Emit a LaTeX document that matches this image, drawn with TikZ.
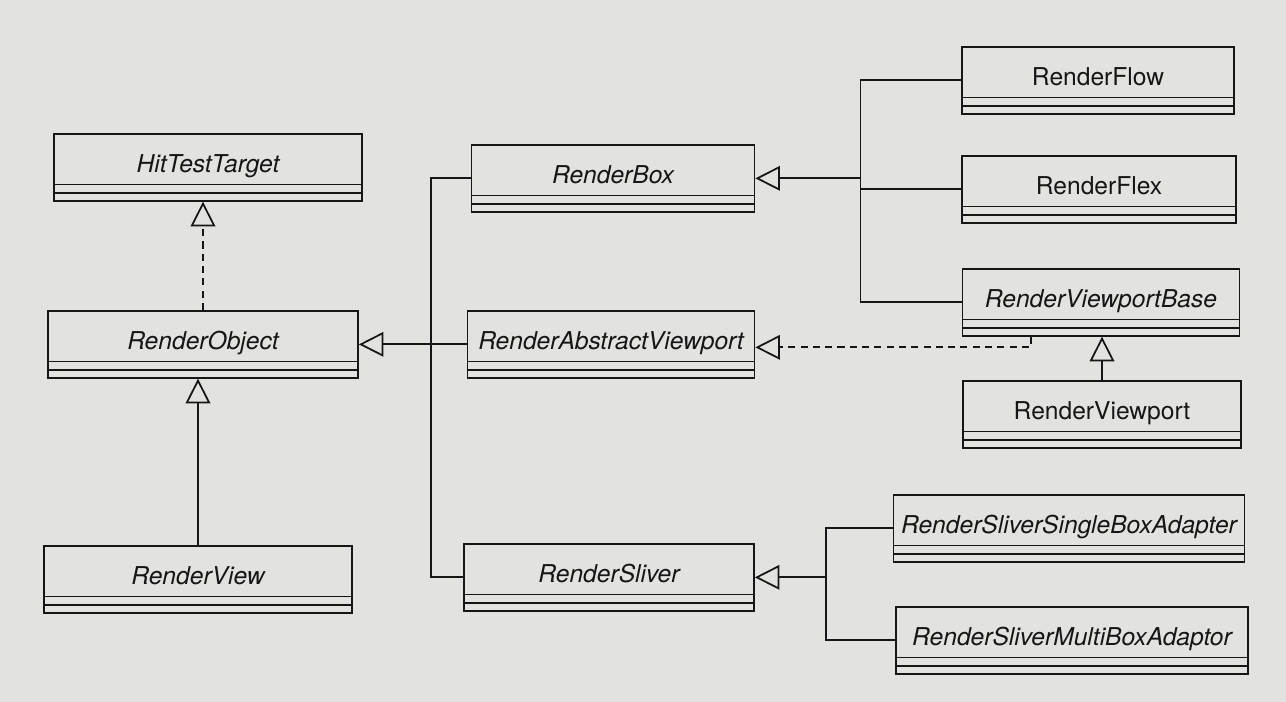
\documentclass[tikz,border=0pt]{standalone}
\usepackage{fontspec}
\setmainfont{TeX Gyre Heros}
\usetikzlibrary{arrows.meta, calc}
\definecolor{paper}{RGB}{226,227,224}
\definecolor{ink}{RGB}{22,22,22}

\tikzset{
  cls/.style={draw=ink, line width=1pt, anchor=north, inner xsep=2pt, inner ysep=0pt,
    text height=22.2pt, text depth=15.9pt,
    font=\fontsize{14}{16}\selectfont\itshape, text=ink, minimum width=#1*0.02cm,
    path picture={
      \draw[ink, line width=1pt] ([yshift=9.3pt]path picture bounding box.south west)
        -- ([yshift=9.3pt]path picture bounding box.south east);
      \draw[ink, line width=1pt] ([yshift=4.6pt]path picture bounding box.south west)
        -- ([yshift=4.6pt]path picture bounding box.south east);
    }},
  concrete/.style={font=\fontsize{14}{16}\selectfont\upshape},
  link/.style={draw=ink, line width=1pt},
  inherit/.style={link, -{Triangle[open, length=14pt, width=14pt]}},
  realize/.style={inherit, dash pattern=on 4pt off 3pt}
}

\begin{document}
\begin{tikzpicture}[x=0.02cm, y=-0.02cm]
\fill[paper] (0,0) rectangle (1286,702);
\useasboundingbox (0,0) rectangle (1286,702);

% left column
\node[cls=308] (hit) at (208,133) {HitTestTarget};
\node[cls=310] (obj) at (203,310) {RenderObject};
\node[cls=308] (view) at (198,545) {RenderView};

% middle column
\node[cls=283] (box) at (613,144) {RenderBox};
\node[cls=287] (absvp) at (611,310) {RenderAbstractViewport};
\node[cls=290] (sliver) at (609,543) {RenderSliver};

% right column
\node[cls=272, concrete] (flow) at (1098,46) {RenderFlow};
\node[cls=274, concrete] (flex) at (1099,155) {RenderFlex};
\node[cls=277] (vpbase) at (1101,268) {RenderViewportBase};
\node[cls=278, concrete] (vp) at (1102,380) {RenderViewport};
\node[cls=351] (single) at (1069,494) {RenderSliverSingleBoxAdapter};
\node[cls=352] (multi) at (1072,606) {RenderSliverMultiBoxAdaptor};

% connectors
\draw[realize] (obj.north) -- (obj.north |- hit.south);
\draw[inherit] (view.north) -- (view.north |- obj.south);

\coordinate (jl) at ($(obj.east)+(72,0)$);
\draw[inherit] (absvp.west) -- (obj.east);
\draw[link] (box.west) -| (jl) |- (sliver.west);

\coordinate (jr) at ($(box.east)+(105,0)$);
\draw[inherit] (jr) -- (box.east);
\draw[link] (flow.west) -| (jr) |- (vpbase.west);
\draw[link] (flex.west) -- (flex.west -| jr);

\draw[realize] ($(vpbase.south west)+(69,0)$) |- ($(absvp.east)+(0,3)$);
\draw[inherit] (vp.north) -- (vp.north |- vpbase.south);

\coordinate (js) at ($(sliver.east)+(71,0)$);
\draw[inherit] (js) -- (sliver.east);
\draw[link] (single.west) -| (js) |- (multi.west);
\end{tikzpicture}
\end{document}
